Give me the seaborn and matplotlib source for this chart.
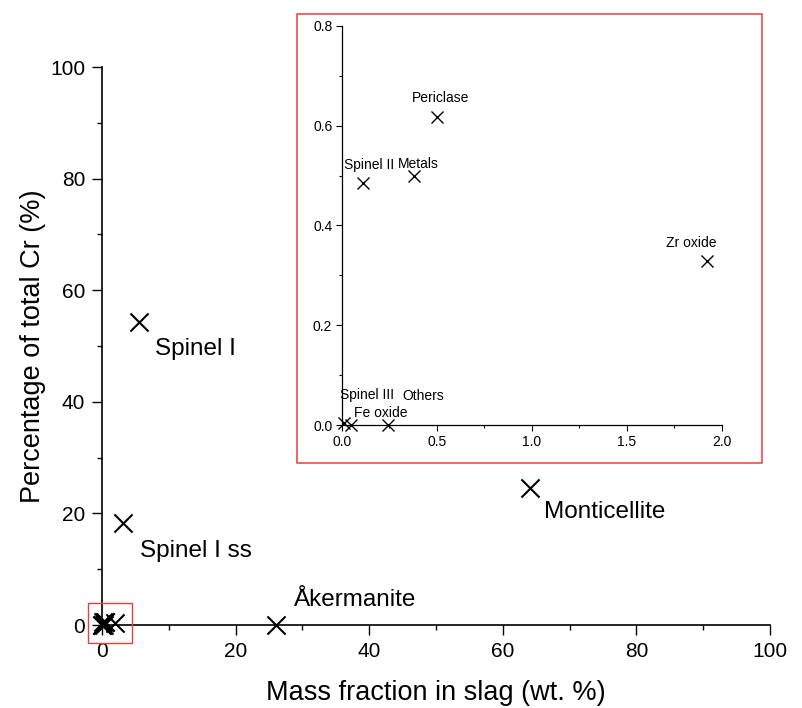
import pandas as pd
import matplotlib.pyplot as plt
import seaborn as sns
from matplotlib.patches import Rectangle
from matplotlib.ticker import MultipleLocator

# Veri: faz adı, cüruf içindeki kütle oranı (wt. %), toplam Cr yüzdesi
phases = ['Spinel I', 'Spinel I ss', 'Åkermanite', 'Monticellite',
          'Periclase', 'Metals', 'Spinel II', 'Zr oxide',
          'Spinel III', 'Fe oxide', 'Others']
mass_fraction = [5.6, 3.1, 26.1, 64.0,
                 0.50, 0.38, 0.11, 1.92,
                 0.01, 0.05, 0.24]
cr_share = [54.3, 18.3, 0.0, 24.6,
            0.617, 0.499, 0.486, 0.329,
            0.005, 0.0, 0.0]

data = pd.DataFrame({'phase': phases, 'mass': mass_fraction, 'cr': cr_share})
main_labels = ['Spinel I', 'Spinel I ss', 'Åkermanite', 'Monticellite']
inset_labels = ['Periclase', 'Metals', 'Spinel II', 'Zr oxide',
                'Spinel III', 'Fe oxide', 'Others']

# Etiket kaydırmaları (punto)
main_offsets = {'Spinel I': (11.5, -19.5), 'Spinel I ss': (12.5, -20.5),
                'Åkermanite': (13, 18), 'Monticellite': (10.5, -17.5)}
inset_offsets = {'Periclase': (2.4, 14), 'Metals': (3, 9), 'Spinel II': (4.3, 13),
                 'Zr oxide': (-11, 13), 'Spinel III': (17, 20),
                 'Fe oxide': (21, 9), 'Others': (26, 21)}

sns.set_style("ticks")
plt.rcParams['font.family'] = ['Liberation Sans', 'DejaVu Sans']
plt.rcParams['text.color'] = 'black'
plt.rcParams['axes.labelcolor'] = 'black'
plt.rcParams['xtick.color'] = 'black'
plt.rcParams['ytick.color'] = 'black'

fig = plt.figure(figsize=(8.02, 7.08), dpi=100)

# Ana grafik
ax = fig.add_axes([0.1272, 0.1172, 0.833, 0.788])
sns.scatterplot(x='mass', y='cr', data=data, ax=ax, marker='x', s=170,
                color='black', linewidth=1.5, clip_on=False, zorder=5)
ax.set_xlim(0, 100)
ax.set_ylim(0, 100)
ax.xaxis.set_major_locator(MultipleLocator(20))
ax.xaxis.set_minor_locator(MultipleLocator(10))
ax.yaxis.set_major_locator(MultipleLocator(20))
ax.yaxis.set_minor_locator(MultipleLocator(10))
ax.tick_params(which='major', direction='out', length=7, width=1, labelsize=15, pad=5, colors='black')
ax.tick_params(which='minor', direction='out', length=3.5, width=1, colors='black')
sns.despine(ax=ax)
for sp in ['left', 'bottom']:
    ax.spines[sp].set_linewidth(1.2)
    ax.spines[sp].set_color('black')
ax.set_xlabel('Mass fraction in slag (wt. %)', fontsize=19.5, labelpad=14, color='black')
ax.set_ylabel('Percentage of total Cr (%)', fontsize=19.5, labelpad=3, color='black')

for _, row in data[data['phase'].isin(main_labels)].iterrows():
    ax.annotate(row['phase'], (row['mass'], row['cr']), xytext=main_offsets[row['phase']],
                textcoords='offset points', ha='left', va='center', fontsize=17.5,
                color='black')

ax.add_patch(Rectangle((-2.05, -3.2), 6.6, 7.1, fill=False, edgecolor='#e8403f',
                       linewidth=1, clip_on=False, zorder=6))

# İç grafik
ins = fig.add_axes([0.4264, 0.3997, 0.4738, 0.5636])
sns.scatterplot(x='mass', y='cr', data=data[data['phase'].isin(inset_labels)], ax=ins,
                marker='x', s=75, color='black', linewidth=1.0, clip_on=False, zorder=5)
ins.set_xlim(0, 2)
ins.set_ylim(0, 0.8)
ins.xaxis.set_major_locator(MultipleLocator(0.5))
ins.xaxis.set_minor_locator(MultipleLocator(0.25))
ins.yaxis.set_major_locator(MultipleLocator(0.2))
ins.yaxis.set_minor_locator(MultipleLocator(0.1))
ins.xaxis.set_major_formatter('{x:.1f}')
ins.yaxis.set_major_formatter('{x:.1f}')
ins.tick_params(which='major', direction='out', length=4, width=0.8, labelsize=10, pad=3, colors='black')
ins.tick_params(which='minor', direction='out', length=2, width=0.8, colors='black')
sns.despine(ax=ins)
for sp in ['left', 'bottom']:
    ins.spines[sp].set_linewidth(0.9)
    ins.spines[sp].set_color('black')
ins.set_xlabel('')
ins.set_ylabel('')
ins.patch.set_alpha(0)

for _, row in data[data['phase'].isin(inset_labels)].iterrows():
    ins.annotate(row['phase'], (row['mass'], row['cr']), xytext=inset_offsets[row['phase']],
                 textcoords='offset points', ha='center', va='center', fontsize=10,
                 color='black')

fig.patches.append(Rectangle((297 / 802, 1 - 463 / 708), 465 / 802, 449 / 708,
                             transform=fig.transFigure, fill=False,
                             edgecolor='#e8403f', linewidth=1.1))

plt.savefig('out.png', dpi=100)
